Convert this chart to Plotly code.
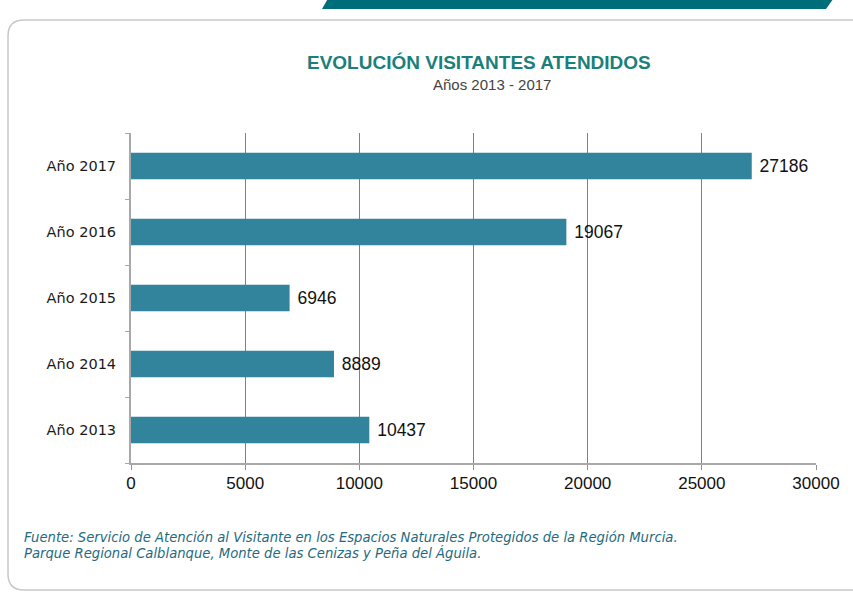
import plotly.graph_objects as go

categories = ["Año 2013", "Año 2014", "Año 2015", "Año 2016", "Año 2017"]
visitantes = [10437, 8889, 6946, 19067, 27186]
x_ticks = [0, 5000, 10000, 15000, 20000, 25000, 30000]

W, H = 853, 596
L, R, T, B = 131, 816, 133, 463

def px(x):
    return (x - L) / (R - L)

def py(y):
    return (B - y) / (B - T)

FONT = "Liberation Sans, Arial, sans-serif"

fig = go.Figure()
fig.add_trace(go.Bar(
    y=categories, x=visitantes, orientation="h",
    marker=dict(color="#31849b", line=dict(width=0)),
    width=0.4,
    text=[" " + str(v) for v in visitantes], textposition="outside",
    textfont=dict(family=FONT, size=17.5, color="#111111"),
    cliponaxis=False,
))

# rounded frame
x0, x1, y0, y1, r = 8, 880, 20, 590, 16
path = (f"M {px(x0+r)} {py(y0)} L {px(x1)} {py(y0)} L {px(x1)} {py(y1)} "
        f"L {px(x0+r)} {py(y1)} Q {px(x0)} {py(y1)} {px(x0)} {py(y1-r)} "
        f"L {px(x0)} {py(y0+r)} Q {px(x0)} {py(y0)} {px(x0+r)} {py(y0)} Z")
shapes = [
    dict(type="path", xref="paper", yref="paper", path=path,
         line=dict(color="#c8c8c8", width=1.5), fillcolor="rgba(0,0,0,0)", layer="below"),
    dict(type="path", xref="paper", yref="paper",
         path=f"M {px(330)} {py(-5)} L {px(836)} {py(-5)} L {px(826)} {py(9)} L {px(322)} {py(9)} Z",
         line=dict(width=0), fillcolor="#006d7a"),
]

SRC_FONT = dict(family="DejaVu Sans, sans-serif", size=13.2, color="#1f6a80")
annotations = [
    dict(text="<b>EVOLUCIÓN VISITANTES ATENDIDOS</b>", xref="paper", yref="paper",
         x=px(479), y=py(63), xanchor="center", yanchor="middle", showarrow=False,
         font=dict(family=FONT, size=19, color="#1b7f7b")),
    dict(text="Años 2013 - 2017", xref="paper", yref="paper",
         x=px(492), y=py(84), xanchor="center", yanchor="middle", showarrow=False,
         font=dict(family=FONT, size=15, color="#444444")),
    dict(text="<i>Fuente: Servicio de Atención al Visitante en los Espacios Naturales Protegidos de la Región Murcia.</i>",
         xref="paper", yref="paper", x=px(22), y=py(537), xanchor="left", yanchor="middle",
         align="left", showarrow=False, font=SRC_FONT),
    dict(text="<i>Parque Regional Calblanque, Monte de las Cenizas y Peña del Águila.</i>",
         xref="paper", yref="paper", x=px(22), y=py(553), xanchor="left", yanchor="middle",
         align="left", showarrow=False, font=SRC_FONT),
]

fig.update_layout(
    width=W, height=H,
    margin=dict(l=L, r=W - R, t=T, b=H - B, pad=0),
    paper_bgcolor="white", plot_bgcolor="white",
    showlegend=False,
    shapes=shapes, annotations=annotations,
    xaxis=dict(range=[0, 30000], tickvals=x_ticks, ticktext=[str(v) for v in x_ticks],
               showgrid=True, gridcolor="#808080", gridwidth=1,
               showline=True, linecolor="#a8a8a8", linewidth=2,
               ticks="outside", ticklen=5, tickcolor="#909090",
               zeroline=False, ticklabelstandoff=-1,
               tickfont=dict(family=FONT, size=17, color="#111111")),
    yaxis=dict(categoryorder="array", categoryarray=categories, range=[-0.5, 4.5],
               showline=True, linecolor="#a8a8a8", linewidth=2,
               ticks="outside", tickson="boundaries", ticklen=4, tickcolor="#a8a8a8",
               showgrid=False, ticklabelstandoff=10,
               tickfont=dict(family="DejaVu Sans, sans-serif", size=14.5, color="#1a1a1a")),
)

fig.write_html("out.html", config={"displayModeBar": False},
               post_script="document.body.style.margin='0';")
